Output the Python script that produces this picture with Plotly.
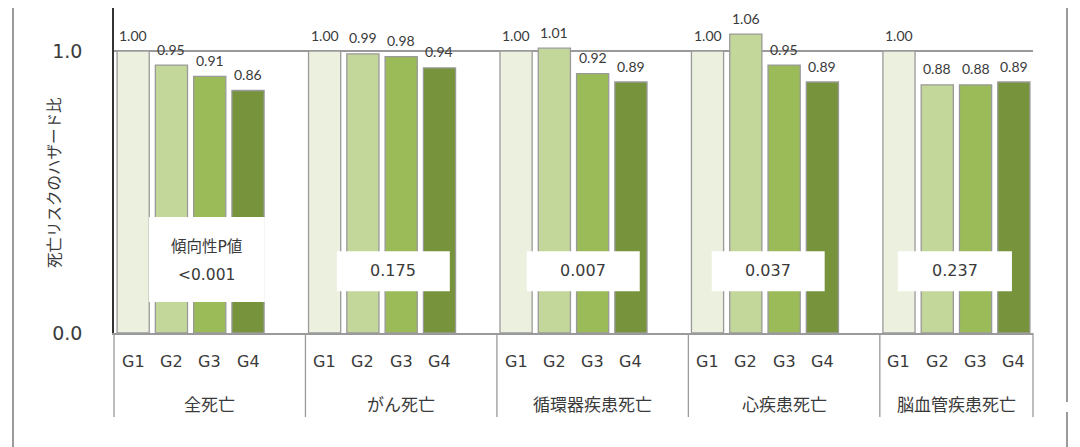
import plotly.graph_objects as go

# ---------------- data ----------------
groups = ["全死亡", "がん死亡", "循環器疾患死亡", "心疾患死亡", "脳血管疾患死亡"]
series_names = ["G1", "G2", "G3", "G4"]
g1 = [1.00, 1.00, 1.00, 1.00, 1.00]
g2 = [0.95, 0.99, 1.01, 1.06, 0.88]
g3 = [0.91, 0.98, 0.92, 0.95, 0.88]
g4 = [0.86, 0.94, 0.89, 0.89, 0.89]
p_values = ["<0.001", "0.175", "0.007", "0.037", "0.237"]
p_title = "傾向性P値"
y_title = "死亡リスクのハザード比"
y_tick_vals = [0, 1]
y_tick_text = ["0.0", "1.0"]

# ---------------- styling / layout constants ----------------
colors = ["#EBF1DE", "#C4D79B", "#9BBB59", "#77933C"]
GROUP_W = 5          # slots per group
BAR_W = 0.84
X_MAX = 24
TXT = "#3a3a3a"
LINE = "#9a9a9a"
JP = "Noto Sans CJK JP"
NUM = "DejaVu Sans, Noto Sans CJK JP"
VAL = "Lato, Noto Sans CJK JP"

# page body has an 8px margin; figure is sized to fit the window
FIG_W, FIG_H = 1072, 439
M_L, M_R, M_T, M_B = 106, 47, 0, 114
PLOT_H = FIG_H - M_T - M_B        # 325 px
PX_PER_UNIT = 282                  # px per 1.0 hazard ratio


def py(screen_y):
    """screen pixel y -> paper y"""
    return (333 - screen_y) / PLOT_H


def px(screen_x):
    """screen pixel x -> paper x"""
    return (screen_x - 114) / (FIG_W - M_L - M_R)


values = [g1, g2, g3, g4]

fig = go.Figure()
for j, (name, vals) in enumerate(zip(series_names, values)):
    xs = [g * GROUP_W + j + 0.5 for g in range(len(groups))]
    fig.add_trace(go.Bar(
        x=xs, y=vals, width=BAR_W, name=name,
        marker=dict(color=colors[j], line=dict(color=LINE, width=1.3)),
        showlegend=False, hoverinfo="y",
    ))

annotations = []
# value labels, G labels
for j, (name, vals) in enumerate(zip(series_names, values)):
    for g, v in enumerate(vals):
        x = g * GROUP_W + j + 0.5
        annotations.append(dict(x=x, y=v, xref="x", yref="y", text=f"{v:.2f}",
                                showarrow=False, yanchor="middle", yshift=16,
                                font=dict(family=VAL, size=14, color=TXT)))
        annotations.append(dict(x=x, y=0, xref="x", yref="y", text=name,
                                showarrow=False, yanchor="middle", yshift=-28,
                                font=dict(family=NUM, size=16, color=TXT)))
# category labels
for g, label in enumerate(groups):
    x0 = g * GROUP_W
    x1 = min(x0 + GROUP_W, X_MAX)
    annotations.append(dict(x=(x0 + x1) / 2, y=0, xref="x", yref="y", text=label,
                            showarrow=False, yanchor="middle", yshift=-70,
                            font=dict(family=JP, size=17, color=TXT)))

# y title
annotations.append(dict(x=px(53), y=py(183), xref="paper", yref="paper", text=y_title,
                        textangle=-90, showarrow=False, xanchor="center", yanchor="middle",
                        font=dict(family=JP, size=15.5, color=TXT)))

shapes = []
# P-value boxes (relative x within group, y range)
box_x = [(0.91, 3.94), (0.82, 3.77), (0.78, 3.73), (0.61, 3.56), (0.47, 3.45)]
for g, (bx0, bx1) in enumerate(box_x):
    base = g * GROUP_W
    if g == 0:
        y0, y1 = 0.110, 0.411
    else:
        y0, y1 = 0.148, 0.290
    shapes.append(dict(type="rect", xref="x", yref="y", x0=base + bx0, x1=base + bx1,
                       y0=y0, y1=y1, fillcolor="white", line=dict(width=0), layer="above"))
    xc = base + (bx0 + bx1) / 2
    if g == 0:
        annotations.append(dict(x=xc, y=0.305, xref="x", yref="y", text=p_title,
                                showarrow=False, font=dict(family=NUM, size=15.5, color=TXT)))
        annotations.append(dict(x=xc, y=0.206, xref="x", yref="y", text=p_values[g],
                                showarrow=False, font=dict(family=NUM, size=15.5, color=TXT)))
    else:
        annotations.append(dict(x=xc, y=0.222, xref="x", yref="y", text=p_values[g],
                                showarrow=False, font=dict(family=NUM, size=16, color=TXT)))

# group separators below the axis
for b in [0, 5, 10, 15, 20, 24]:
    shapes.append(dict(type="line", xref="paper", yref="paper", x0=b / X_MAX, x1=b / X_MAX,
                       y0=0, y1=py(417), line=dict(color=LINE, width=1.3)))

# outer frame lines
shapes.append(dict(type="line", xref="paper", yref="paper", x0=px(13), x1=px(13),
                   y0=py(0), y1=py(447), line=dict(color=LINE, width=2)))
shapes.append(dict(type="line", xref="paper", yref="paper", x0=px(1067), x1=px(1067),
                   y0=py(0), y1=py(402), line=dict(color=LINE, width=2)))
shapes.append(dict(type="line", xref="paper", yref="paper", x0=px(1067), x1=px(1067),
                   y0=py(412), y1=py(447), line=dict(color=LINE, width=2)))

fig.update_layout(
    width=FIG_W, height=FIG_H,
    margin=dict(l=M_L, r=M_R, t=M_T, b=M_B),
    paper_bgcolor="white", plot_bgcolor="white",
    barmode="overlay",
    xaxis=dict(range=[0, X_MAX], showticklabels=False, showgrid=False, zeroline=False,
               showline=True, linecolor=LINE, linewidth=1.5, ticks="", fixedrange=True),
    yaxis=dict(range=[0, PLOT_H / PX_PER_UNIT], tickvals=y_tick_vals, ticktext=y_tick_text,
               showgrid=True, gridcolor=LINE, gridwidth=1.8, zeroline=False,
               showline=True, linecolor="#333333", linewidth=1.5,
               ticks="outside", ticklen=26, tickcolor="rgba(0,0,0,0)",
               tickfont=dict(family=NUM, size=19, color=TXT), fixedrange=True),
    annotations=annotations,
    shapes=shapes,
)

fig.write_html("out.html")
